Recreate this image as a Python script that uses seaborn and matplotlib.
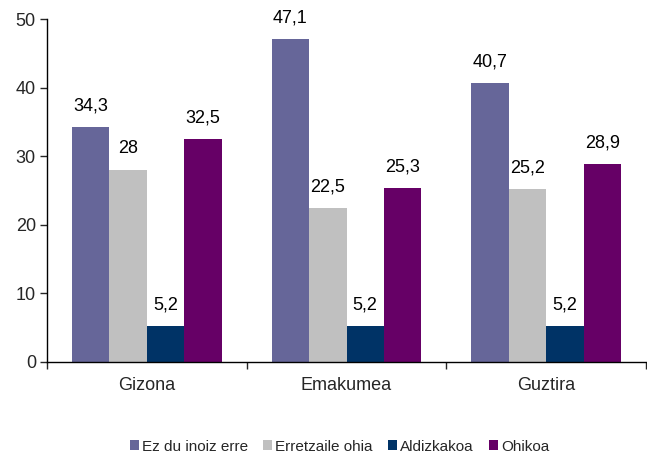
import matplotlib
matplotlib.use("Agg")
import matplotlib.pyplot as plt
from matplotlib.patches import Patch
import pandas as pd
import seaborn as sns

groups = ["Gizona", "Emakumea", "Guztira"]
series = ["Ez du inoiz erre", "Erretzaile ohia", "Aldizkakoa", "Ohikoa"]
ez_du_inoiz_erre = [34.3, 47.1, 40.7]
erretzaile_ohia = [28.0, 22.5, 25.2]
aldizkakoa = [5.2, 5.2, 5.2]
ohikoa = [32.5, 25.3, 28.9]
colors = ["#666699", "#C0C0C0", "#003366", "#660066"]

values = [ez_du_inoiz_erre, erretzaile_ohia, aldizkakoa, ohikoa]
df = pd.DataFrame(
    [(g, s, v) for s, vals in zip(series, values) for g, v in zip(groups, vals)],
    columns=["group", "series", "value"],
)

sns.set_style("white")
plt.rcParams["font.family"] = ["Liberation Sans", "DejaVu Sans"]

fig = plt.figure(figsize=(6.47, 4.54), dpi=100)
ax = fig.add_axes([47 / 647, 92 / 454, 599 / 647, 343 / 454])

sns.barplot(data=df, x="group", y="value", hue="series", order=groups,
            hue_order=series, palette=colors, width=0.75, gap=0,
            saturation=1, legend=False, ax=ax, errorbar=None, linewidth=0)


def fmt(v):
    s = f"{v:.1f}".replace(".", ",")
    return s[:-2] if s.endswith(",0") else s


for cont in ax.containers:
    ax.bar_label(cont, labels=[fmt(b.get_height()) for b in cont],
                 padding=9, fontsize=13, color="#000000")

ax.set_ylim(0, 50)
ax.set_yticks(range(0, 51, 10))
ax.set_xlim(-0.5, 2.5)
ax.set_xlabel("")
ax.set_ylabel("")
ax.tick_params(axis="y", which="major", length=5, width=1, direction="out",
               labelsize=13, left=True, pad=3)
ax.set_xticks([-0.5, 0.5, 1.5, 2.5], minor=True)
ax.tick_params(axis="x", which="minor", length=5, width=1, direction="out", bottom=True)
ax.tick_params(axis="x", which="major", length=0, labelsize=13, pad=11)
for side in ["top", "right"]:
    ax.spines[side].set_visible(False)
for side in ["left", "bottom"]:
    ax.spines[side].set_color("black")
    ax.spines[side].set_linewidth(1)

handles = [Patch(facecolor=c, edgecolor="none", label=s) for c, s in zip(colors, series)]
fig.legend(handles=handles, loc="center", bbox_to_anchor=(0.525, 0.016),
           ncol=4, frameon=False, fontsize=11, handlelength=0.6, handleheight=0.6,
           handletextpad=0.2, columnspacing=1.0)

fig.savefig("out.png", dpi=100)
